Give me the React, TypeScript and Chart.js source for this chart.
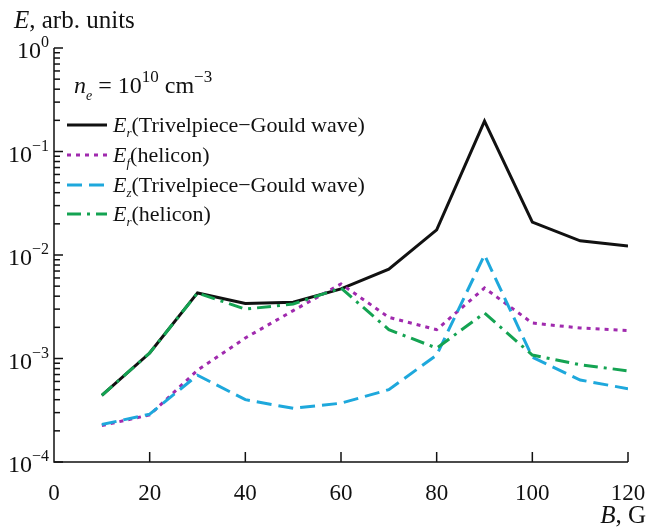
import React, { useEffect, useRef } from "react";
import { Chart, registerables } from "chart.js";
Chart.register(...registerables);

const B = [10, 20, 30, 40, 50, 60, 70, 80, 90, 100, 110, 120];
const erTG = [4.4e-4, 1.13e-3, 4.3e-3, 3.4e-3, 3.5e-3, 4.7e-3, 7.3e-3, 1.75e-2, 0.197, 2.08e-2, 1.37e-2, 1.22e-2];
const efHel = [2.25e-4, 2.85e-4, 7.7e-4, 1.58e-3, 2.9e-3, 5.25e-3, 2.5e-3, 1.9e-3, 4.8e-3, 2.2e-3, 1.97e-3, 1.86e-3];
const ezTG = [2.3e-4, 2.9e-4, 6.9e-4, 4.0e-4, 3.3e-4, 3.7e-4, 5.0e-4, 1.08e-3, 1.0e-2, 1.03e-3, 6.2e-4, 5.1e-4];
const erHel = [4.4e-4, 1.13e-3, 4.3e-3, 3.0e-3, 3.36e-3, 4.8e-3, 1.9e-3, 1.26e-3, 2.75e-3, 1.08e-3, 8.7e-4, 7.6e-4];
const xTicks = [0, 20, 40, 60, 80, 100, 120];
const yDecades = [-4, -3, -2, -1, 0];

const FONT = '"Liberation Serif", "Times New Roman", serif';

type Run = { t: string; it?: boolean; s: number; dy?: number };

function setFont(ctx: CanvasRenderingContext2D, r: Run) {
  ctx.font = `${r.it ? "italic " : ""}${r.s}px ${FONT}`;
}
function runsWidth(ctx: CanvasRenderingContext2D, runs: Run[]) {
  let w = 0;
  for (const r of runs) {
    setFont(ctx, r);
    w += ctx.measureText(r.t).width;
  }
  return w;
}
function drawRuns(ctx: CanvasRenderingContext2D, x: number, y: number, runs: Run[], align: "left" | "right" | "center" = "left") {
  const w = runsWidth(ctx, runs);
  if (align === "right") x -= w;
  else if (align === "center") x -= w / 2;
  ctx.textAlign = "left";
  ctx.textBaseline = "alphabetic";
  for (const r of runs) {
    setFont(ctx, r);
    ctx.fillText(r.t, x, y + (r.dy || 0));
    x += ctx.measureText(r.t).width;
  }
}

const series = [
  { label: "r", name: "(Trivelpiece\u2212Gould wave)", data: erTG, color: "#111111", dash: [] as number[], width: 3, order: 3 },
  { label: "f", name: "(helicon)", data: efHel, color: "#a02aae", dash: [4, 5], width: 3, order: 2 },
  { label: "z", name: "(Trivelpiece\u2212Gould wave)", data: ezTG, color: "#1ea8dc", dash: [15, 7], width: 3, order: 1 },
  { label: "r", name: "(helicon)", data: erHel, color: "#14a352", dash: [14, 6, 3, 6], width: 3, order: 0 },
];

const overlay = {
  id: "overlay",
  afterDraw(chart: any) {
    const ctx: CanvasRenderingContext2D = chart.ctx;
    const xs = chart.scales.x;
    const ys = chart.scales.y;
    const x0 = xs.getPixelForValue(0);
    const x1 = xs.getPixelForValue(120);
    const yb = ys.getPixelForValue(1e-4);
    const yt = ys.getPixelForValue(1);
    ctx.save();
    ctx.strokeStyle = "#111";
    ctx.fillStyle = "#111";
    ctx.lineWidth = 1.5;
    ctx.setLineDash([]);
    // axes
    ctx.beginPath();
    ctx.moveTo(x0, yt);
    ctx.lineTo(x0, yb);
    ctx.lineTo(x1, yb);
    ctx.stroke();
    // x ticks
    for (const v of xTicks) {
      const px = xs.getPixelForValue(v);
      if (v !== 0) {
        ctx.beginPath();
        ctx.moveTo(px, yb);
        ctx.lineTo(px, yb - 10);
        ctx.stroke();
      }
      drawRuns(ctx, px, yb + 38, [{ t: String(v), s: 23 }], "center");
    }
    // y ticks
    for (const d of yDecades) {
      const py = ys.getPixelForValue(Math.pow(10, d));
      ctx.beginPath();
      ctx.moveTo(x0, py);
      ctx.lineTo(x0 + 9, py);
      ctx.stroke();
      if (d < 0) {
        for (let m = 2; m <= 9; m++) {
          const pm = ys.getPixelForValue(m * Math.pow(10, d));
          ctx.beginPath();
          ctx.moveTo(x0, pm);
          ctx.lineTo(x0 + 6, pm);
          ctx.stroke();
        }
      }
      const exp = d === 0 ? "0" : "\u2212" + String(-d);
      drawRuns(ctx, x0 - 5, py + 10, [
        { t: "10", s: 24 },
        { t: exp, s: 16, dy: -11 },
      ], "right");
    }
    // axis titles
    drawRuns(ctx, 14, 28, [
      { t: "E", it: true, s: 25 },
      { t: ", arb. units", s: 25 },
    ]);
    drawRuns(ctx, 646, 523, [
      { t: "B", it: true, s: 25 },
      { t: ", G", s: 25 },
    ], "right");
    // annotation
    drawRuns(ctx, 74, 93, [
      { t: "n", it: true, s: 24 },
      { t: "e", it: true, s: 14, dy: 7 },
      { t: " = 10", s: 24 },
      { t: "10", s: 17, dy: -11 },
      { t: " cm", s: 24 },
      { t: "\u22123", s: 17, dy: -11 },
    ]);
    // legend
    const rows = [125, 155, 185, 214];
    series.forEach((s, i) => {
      const y = rows[i];
      ctx.strokeStyle = s.color;
      ctx.lineWidth = s.width;
      ctx.setLineDash(s.dash);
      ctx.beginPath();
      ctx.moveTo(67, y);
      ctx.lineTo(107, y);
      ctx.stroke();
      ctx.setLineDash([]);
      ctx.fillStyle = "#111";
      drawRuns(ctx, 113, y + 7, [
        { t: "E", it: true, s: 22 },
        { t: s.label, it: true, s: 13, dy: 5 },
        { t: s.name, s: 22 },
      ]);
    });
    ctx.restore();
  },
};

export default function App() {
  const ref = useRef<HTMLCanvasElement | null>(null);
  useEffect(() => {
    if (!ref.current) return;
    const chart = new Chart(ref.current, {
      type: "line",
      data: {
        datasets: series.map((s) => ({
          label: s.name,
          data: B.map((b, i) => ({ x: b, y: s.data[i] })),
          borderColor: s.color,
          backgroundColor: s.color,
          borderWidth: s.width,
          borderDash: s.dash,
          pointRadius: 0,
          tension: 0,
          fill: false,
          order: s.order,
          borderJoinStyle: "miter" as const,
          borderCapStyle: "butt" as const,
        })),
      },
      options: {
        animation: false,
        responsive: false,
        devicePixelRatio: 1,
        layout: { padding: { left: 54, right: 23, top: 48, bottom: 67 } },
        scales: {
          x: { type: "linear", min: 0, max: 120, display: false },
          y: { type: "logarithmic", min: 1e-4, max: 1, display: false },
        },
        plugins: { legend: { display: false }, tooltip: { enabled: false } },
      },
      plugins: [overlay],
    });
    return () => chart.destroy();
  }, []);
  return (
    <div style={{ position: "fixed", left: 0, top: 0, width: 651, height: 529, background: "#fff" }}>
      <canvas ref={ref} width={651} height={529} style={{ width: 651, height: 529, display: "block" }} />
    </div>
  );
}
